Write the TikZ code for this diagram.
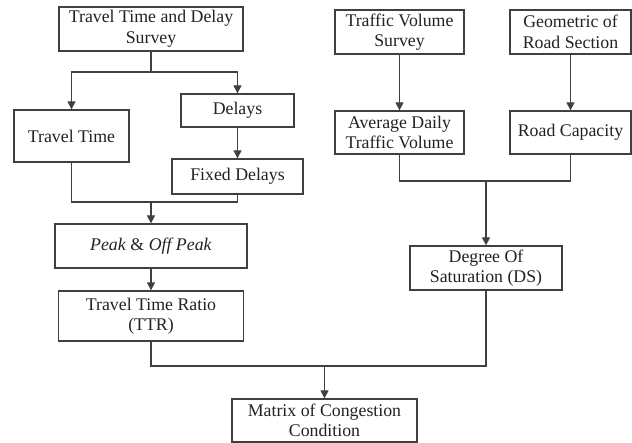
\documentclass[tikz,border=0pt]{standalone}
\usepackage{fontspec}
\setmainfont{Liberation Serif}
\usetikzlibrary{arrows.meta}
\definecolor{ln}{HTML}{404040}
\definecolor{tx}{HTML}{222222}
\tikzset{
  box/.style={draw=ln, line width=1.3pt, align=center, inner sep=0pt, text=tx,
    font=\fontsize{17.8}{20.5}\selectfont},
  conn/.style={draw=ln, line width=1.3pt},
  arr/.style={conn, -{Triangle[length=8pt,width=8pt]}}
}
\begin{document}
\begin{tikzpicture}[x=1pt,y=-1pt]
\useasboundingbox[fill=white] (0,0) rectangle (632,443);
% boxes
\node[box, minimum width=184pt, minimum height=44pt] (tts) at (151,29) {Travel Time and Delay\\Survey};
\node[box, minimum width=115pt, minimum height=52pt] (tt) at (71.5,136) {Travel Time};
\node[box, minimum width=113pt, minimum height=33pt] (del) at (237.5,110.5) {Delays};
\node[box, minimum width=131pt, minimum height=35pt] (fx) at (237.5,176.5) {Fixed Delays};
\node[box, minimum width=192pt, minimum height=44pt] (pk) at (151,246) {\textit{Peak} \& \textit{Off Peak}};
\node[box, minimum width=185pt, minimum height=50pt] (ttr) at (151,316) {Travel Time Ratio\\(TTR)};
\node[box, minimum width=129pt, minimum height=44pt] (tvs) at (399.5,32) {Traffic Volume\\Survey};
\node[box, minimum width=121pt, minimum height=44pt] (geo) at (570.5,32) {Geometric of\\Road Section};
\node[box, minimum width=129pt, minimum height=43pt] (adt) at (399.5,132.5) {Average Daily\\Traffic Volume};
\node[box, minimum width=121pt, minimum height=43pt] (rc) at (570.5,132.5) {Road Capacity};
\node[box, minimum width=152pt, minimum height=44pt] (ds) at (486,268) {Degree Of\\Saturation (DS)};
\node[box, minimum width=185pt, minimum height=43pt] (mx) at (324.5,420.5) {Matrix of Congestion\\Condition};
% junctions
\coordinate (j1) at (151,72);
\coordinate (j2) at (151,202);
\coordinate (j3) at (486,181);
\coordinate (j4) at (324.5,366);
% connectors
\draw[conn] (tts.south) -- (j1);
\draw[arr] (j1) -| (tt.north);
\draw[arr] (j1) -| (del.north);
\draw[arr] (del.south) -- (fx.north);
\draw[conn] (tt.south) |- (j2) -| (fx.south);
\draw[arr] (j2) -- (pk.north);
\draw[arr] (pk.south) -- (ttr.north);
\draw[arr] (tvs.south) -- (adt.north);
\draw[arr] (geo.south) -- (rc.north);
\draw[conn] (adt.south) |- (j3) -| (rc.south);
\draw[arr] (j3) -- (ds.north);
\draw[conn] (ttr.south) |- (j4) -| (ds.south);
\draw[arr] (j4) -- (mx.north);
\end{tikzpicture}
\end{document}
